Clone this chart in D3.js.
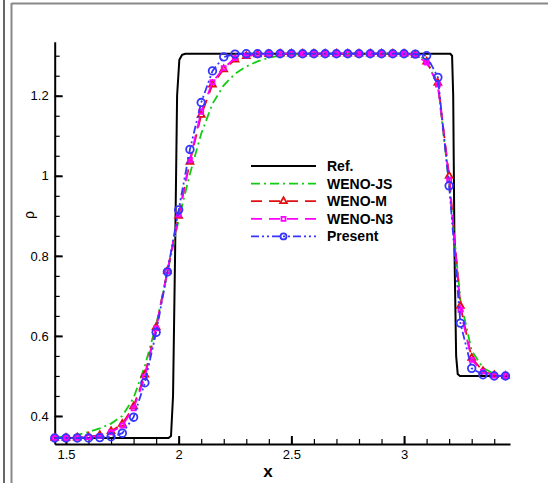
<html>
<head>
  <title>Density profile</title>
  <script src="https://d3js.org/d3.v7.min.js"></script>
  <style>
    body {
      margin: 0;
      background: #fff;
      font-family: "Liberation Sans", Arial, Helvetica, sans-serif;
    }
    .axis path, .axis line {
      stroke: #000;
    }
    .axis text {
      font-size: 13px;
      fill: #000;
    }
  </style>
</head>
<body>
  <script>
    var xs = [1.45, 1.50, 1.55, 1.60, 1.65, 1.70, 1.75, 1.80, 1.85, 1.90,
              1.95, 2.00, 2.05, 2.10, 2.15, 2.20, 2.25, 2.30, 2.35, 2.40,
              2.45, 2.50, 2.55, 2.60, 2.65, 2.70, 2.75, 2.80, 2.85, 2.90,
              2.95, 3.00, 3.05, 3.10, 3.15, 3.20, 3.25, 3.30, 3.35, 3.40, 3.45];

    var refX = [1.45, 1.955, 1.966, 1.975, 1.984, 1.993, 2.003, 2.015, 2.03, 3.205, 3.213, 3.218, 3.224, 3.231, 3.238, 3.248, 3.47];
    var refY = [0.345, 0.345, 0.35, 0.45, 0.8, 1.2, 1.29, 1.302, 1.305, 1.305, 1.3, 1.2, 0.8, 0.55, 0.505, 0.5, 0.5];

    var wenoJS = [0.347, 0.349, 0.353, 0.360, 0.369, 0.381, 0.400, 0.445, 0.525, 0.627,
                  0.758, 0.890, 1.005, 1.105, 1.180, 1.226, 1.255, 1.273, 1.286, 1.295,
                  1.300, 1.303, 1.304, 1.305, 1.305, 1.305, 1.305, 1.305, 1.305, 1.305,
                  1.305, 1.305, 1.303, 1.290, 1.225, 0.980, 0.690, 0.563, 0.520, 0.505, 0.501];

    var wenoM = [0.345, 0.345, 0.346, 0.348, 0.352, 0.362, 0.380, 0.424, 0.503, 0.622,
                 0.762, 0.900, 1.035, 1.152, 1.228, 1.266, 1.290, 1.299, 1.303, 1.304,
                 1.305, 1.305, 1.305, 1.305, 1.305, 1.305, 1.305, 1.305, 1.305, 1.305,
                 1.305, 1.305, 1.302, 1.285, 1.232, 1.000, 0.675, 0.545, 0.512, 0.502, 0.500];

    var wenoN3 = [0.345, 0.345, 0.346, 0.347, 0.350, 0.359, 0.376, 0.419, 0.497, 0.619,
                  0.762, 0.903, 1.040, 1.160, 1.234, 1.269, 1.294, 1.300, 1.303, 1.304,
                  1.305, 1.305, 1.305, 1.305, 1.305, 1.305, 1.305, 1.305, 1.305, 1.305,
                  1.305, 1.305, 1.302, 1.283, 1.228, 0.990, 0.665, 0.540, 0.511, 0.501, 0.500];

    var present = [0.345, 0.345, 0.345, 0.345, 0.346, 0.348, 0.357, 0.397, 0.483, 0.609,
                   0.760, 0.915, 1.066, 1.183, 1.262, 1.297, 1.304, 1.305, 1.305, 1.305,
                   1.305, 1.305, 1.305, 1.305, 1.305, 1.305, 1.305, 1.305, 1.305, 1.305,
                   1.305, 1.305, 1.304, 1.300, 1.246, 0.975, 0.632, 0.519, 0.503, 0.500, 0.500];

    var xMajor = [1.5, 2, 2.5, 3];
    var yMajor = [0.4, 0.6, 0.8, 1, 1.2];
    var legendNames = ["Ref.", "WENO-JS", "WENO-M", "WENO-N3", "Present"];

    var width = 548, height = 483;

    var svg = d3.select("body").append("svg")
      .attr("width", width)
      .attr("height", height);

    // outer frame
    svg.append("line").attr("x1", 4).attr("x2", 4).attr("y1", 0).attr("y2", height)
      .attr("stroke", "#000").attr("stroke-width", 1.2);
    svg.append("line").attr("x1", 11.5).attr("x2", 11.5).attr("y1", 3).attr("y2", height)
      .attr("stroke", "#888").attr("stroke-width", 2);
    svg.append("line").attr("x1", 11.5).attr("x2", width).attr("y1", 3.5).attr("y2", 3.5)
      .attr("stroke", "#888").attr("stroke-width", 2);

    var x = d3.scaleLinear().domain([1.45, 3.47]).range([54.7, 510]);
    var y = d3.scaleLinear().domain([0.33, 1.335]).range([444, 41.7]);

    // minor ticks
    svg.append("g").attr("class", "axis")
      .attr("transform", "translate(0," + y(0.33) + ")")
      .call(d3.axisBottom(x).tickValues(d3.range(16, 35).map(function(d) { return d / 10; }))
        .tickSizeInner(-5).tickSizeOuter(0).tickFormat(""))
      .call(function(g) { g.select(".domain").remove(); g.selectAll("line").attr("stroke-width", 1.2); });

    svg.append("g").attr("class", "axis")
      .attr("transform", "translate(" + x(1.45) + ",0)")
      .call(d3.axisLeft(y).tickValues(d3.range(7, 27).map(function(d) { return d / 20; }))
        .tickSizeInner(-5).tickSizeOuter(0).tickFormat(""))
      .call(function(g) { g.select(".domain").remove(); g.selectAll("line").attr("stroke-width", 1.2); });

    // major axes
    svg.append("g").attr("class", "axis")
      .attr("transform", "translate(0," + y(0.33) + ")")
      .call(d3.axisBottom(x).tickValues(xMajor).tickSizeInner(-8).tickSizeOuter(0).tickPadding(6)
        .tickFormat(d3.format("")))
      .call(function(g) {
        g.select(".domain").attr("stroke-width", 2);
        g.selectAll("line").attr("stroke-width", 2);
      });

    svg.append("g").attr("class", "axis")
      .attr("transform", "translate(" + x(1.45) + ",0)")
      .call(d3.axisLeft(y).tickValues(yMajor).tickSizeInner(-8).tickSizeOuter(0).tickPadding(6)
        .tickFormat(d3.format("")))
      .call(function(g) {
        g.select(".domain").attr("stroke-width", 2);
        g.selectAll("line").attr("stroke-width", 2);
      });

    svg.append("text")
      .attr("x", 268).attr("y", 477)
      .attr("text-anchor", "middle")
      .attr("font-size", 17).attr("font-weight", "bold")
      .text("x");

    svg.append("text")
      .attr("transform", "translate(34,215) rotate(-90)")
      .attr("text-anchor", "middle")
      .attr("font-size", 14)
      .text("ρ");

    var line = d3.line()
      .x(function(d) { return x(d[0]); })
      .y(function(d) { return y(d[1]); });

    var series = [
      { name: "Ref.", pts: d3.zip(refX, refY), color: "#000", dash: null, width: 2, marker: null },
      { name: "WENO-JS", pts: d3.zip(xs, wenoJS), color: "#11cc11", dash: "9,4,2,4", width: 1.8, marker: null },
      { name: "WENO-M", pts: d3.zip(xs, wenoM), color: "#e01010", dash: "11,7", width: 1.8, marker: "triangle" },
      { name: "WENO-N3", pts: d3.zip(xs, wenoN3), color: "#ff00ff", dash: "11,7", width: 1.8, marker: "square" },
      { name: "Present", pts: d3.zip(xs, present), color: "#3535ff", dash: "8,3,2,3,2,3", width: 1.8, marker: "circle" }
    ];

    var symbols = { triangle: d3.symbolTriangle, square: d3.symbolSquare };

    function drawMarker(g, s, px, py, r) {
      if (s.marker === "circle") {
        g.append("circle").attr("cx", px).attr("cy", py).attr("r", r)
          .attr("fill", "none").attr("stroke", s.color).attr("stroke-width", 1.8);
      } else if (s.marker) {
        g.append("path")
          .attr("d", d3.symbol().type(symbols[s.marker]).size(s.marker === "square" ? 16 : 20)())
          .attr("transform", "translate(" + px + "," + py + ")")
          .attr("fill", "none").attr("stroke", s.color).attr("stroke-width", 1.8);
      }
    }

    series.forEach(function(s) {
      var g = svg.append("g");
      g.append("path")
        .attr("d", line(s.pts))
        .attr("fill", "none")
        .attr("stroke", s.color)
        .attr("stroke-width", s.width)
        .attr("stroke-dasharray", s.dash);
      s.pts.forEach(function(p) { drawMarker(g, s, x(p[0]), y(p[1]), 3.8); });
    });

    // legend
    var legend = svg.append("g");
    series.forEach(function(s, i) {
      var ly = 166 + i * 17.6;
      legend.append("line")
        .attr("x1", 251).attr("x2", 316).attr("y1", ly).attr("y2", ly)
        .attr("stroke", s.color).attr("stroke-width", s.width)
        .attr("stroke-dasharray", s.dash);
      drawMarker(legend, s, 283.5, ly, 3);
      legend.append("text")
        .attr("x", 327).attr("y", ly).attr("dy", "0.36em")
        .attr("font-size", 14).attr("font-weight", "bold")
        .text(legendNames[i]);
    });
  </script>
</body>
</html>
